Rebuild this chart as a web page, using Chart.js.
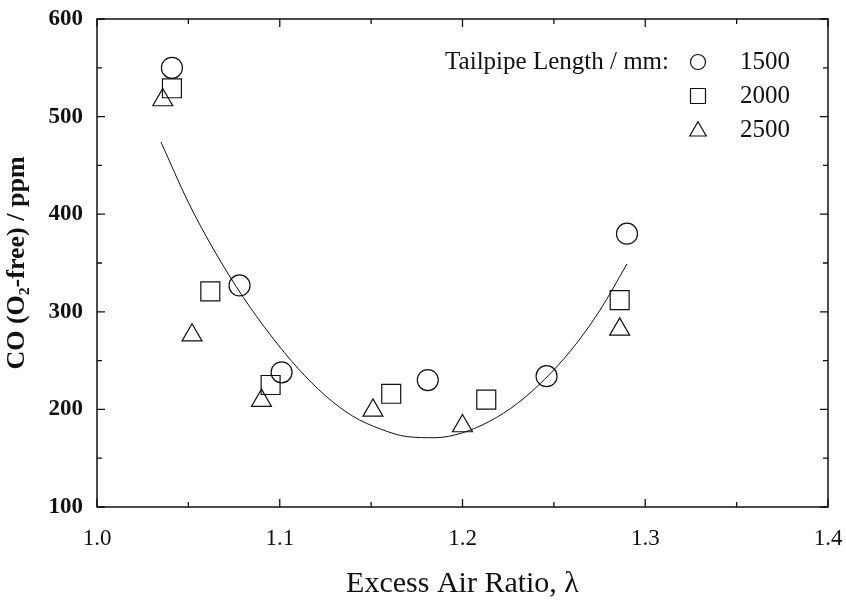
<!DOCTYPE html>
<html>
<head>
<meta charset="utf-8">
<script src="https://cdn.jsdelivr.net/npm/chart.js@4.4.1/dist/chart.umd.min.js"></script>
<style>
  html, body { margin: 0; padding: 0; background: #fff; }
</style>
</head>
<body>
<canvas id="coChart" width="846" height="607"></canvas>
<script>
// excess air ratio / CO readings per tailpipe length
var lambda1500 = [1.041, 1.078, 1.101, 1.181, 1.246, 1.290];
var co1500     = [550, 327, 238, 230, 234, 380];
var lambda2000 = [1.041, 1.062, 1.095, 1.161, 1.213, 1.286];
var co2000     = [529, 321, 225, 216, 210, 312];
var lambda2500 = [1.036, 1.052, 1.090, 1.151, 1.200, 1.286];
var co2500     = [517, 276, 209, 199, 183, 282];

// fitted curve
var fitLambda = [1.035, 1.05, 1.065, 1.08, 1.095, 1.11, 1.125, 1.14, 1.155, 1.17, 1.185, 1.2, 1.215, 1.23, 1.245, 1.26, 1.275, 1.29];
var fitCO     = [474, 412, 360, 315, 276, 242, 214, 193, 180, 172, 171, 176, 188, 206, 231, 262, 301, 349];

var seriesNames = ['1500', '2000', '2500'];
var xTicks = [1.0, 1.1, 1.2, 1.3, 1.4];
var yTicks = [100, 200, 300, 400, 500, 600];

var ink = '#111';
var serif = "'Liberation Serif', 'DejaVu Serif', serif";

function pts(xs, ys) {
  return xs.map(function (x, i) { return { x: x, y: ys[i] }; });
}

// inner ticks on all four sides + frame
var frameTicks = {
  id: 'frameTicks',
  afterDraw: function (chart) {
    var ctx = chart.ctx, a = chart.chartArea;
    var xs = chart.scales.x, ys = chart.scales.y;
    ctx.save();
    ctx.strokeStyle = ink;
    ctx.lineWidth = 1.5;
    ctx.strokeRect(a.left, a.top, a.right - a.left, a.bottom - a.top);
    ctx.lineWidth = 1.3;
    ctx.beginPath();
    for (var v = 1.0; v <= 1.4001; v += 0.05) {
      var px = xs.getPixelForValue(v);
      var major = Math.abs(v * 10 - Math.round(v * 10)) < 0.01;
      var len = major ? 8 : 5;
      ctx.moveTo(px, a.bottom); ctx.lineTo(px, a.bottom - len);
      ctx.moveTo(px, a.top); ctx.lineTo(px, a.top + len);
    }
    for (var w = 100; w <= 600; w += 50) {
      var py = ys.getPixelForValue(w);
      var len2 = (w % 100 === 0) ? 8 : 5;
      ctx.moveTo(a.left, py); ctx.lineTo(a.left + len2, py);
      ctx.moveTo(a.right, py); ctx.lineTo(a.right - len2, py);
    }
    ctx.stroke();
    ctx.restore();
  }
};

function marker(ctx, style, x, y, r) {
  ctx.beginPath();
  if (style === 'circle') {
    ctx.arc(x, y, r, 0, Math.PI * 2);
  } else if (style === 'rect') {
    ctx.rect(x - r, y - r, 2 * r, 2 * r);
  } else {
    ctx.moveTo(x, y - r * 1.1);
    ctx.lineTo(x + r * 1.1, y + r * 0.8);
    ctx.lineTo(x - r * 1.1, y + r * 0.8);
    ctx.closePath();
  }
  ctx.stroke();
}

// legend inside plot, top right
var legendBox = {
  id: 'legendBox',
  afterDraw: function (chart) {
    var ctx = chart.ctx;
    var styles = ['circle', 'rect', 'triangle'];
    ctx.save();
    ctx.fillStyle = ink;
    ctx.strokeStyle = ink;
    ctx.lineWidth = 1.2;
    ctx.font = '25px ' + serif;
    ctx.textBaseline = 'middle';
    ctx.textAlign = 'right';
    ctx.fillText('Tailpipe Length / mm:', 669, 62);
    for (var i = 0; i < seriesNames.length; i++) {
      var ry = 62 + i * 34;
      marker(ctx, styles[i], 698, ry, 7.5);
      ctx.textAlign = 'left';
      ctx.fillText(seriesNames[i], 740, ry);
    }
    ctx.restore();
  }
};

function scatterSet(label, xs, ys, style, r) {
  return {
    label: label,
    data: pts(xs, ys),
    pointStyle: style,
    pointRadius: r,
    pointHoverRadius: r,
    pointBorderWidth: 1.2,
    pointBorderColor: ink,
    pointBackgroundColor: 'rgba(0,0,0,0)',
    showLine: false
  };
}

new Chart(document.getElementById('coChart'), {
  type: 'scatter',
  data: {
    datasets: [
      {
        label: 'fit',
        data: pts(fitLambda, fitCO),
        showLine: true,
        borderColor: ink,
        borderWidth: 1,
        pointRadius: 0,
        cubicInterpolationMode: 'monotone',
        fill: false
      },
      scatterSet(seriesNames[0], lambda1500, co1500, 'circle', 10.5),
      scatterSet(seriesNames[1], lambda2000, co2000, 'rect', 13.4),
      scatterSet(seriesNames[2], lambda2500, co2500, 'triangle', 11.5)
    ]
  },
  options: {
    responsive: false,
    animation: false,
    layout: { padding: { left: 2, right: 18, top: 19, bottom: 2 } },
    plugins: {
      legend: { display: false },
      tooltip: { enabled: false }
    },
    scales: {
      x: {
        type: 'linear',
        min: 1.0,
        max: 1.4,
        afterBuildTicks: function (s) { s.ticks = xTicks.map(function (v) { return { value: v }; }); },
        afterFit: function (s) {
          s.height = 98;
          s.paddingLeft = 0;
          s.paddingRight = 0;
        },
        grid: { display: false, drawTicks: false },
        border: { display: false },
        ticks: {
          padding: 18,
          color: ink,
          font: { family: serif, size: 23 },
          maxRotation: 0,
          callback: function (v) { return v.toFixed(1); }
        },
        title: {
          display: true,
          text: 'Excess Air Ratio, \u03bb',
          color: ink,
          padding: { top: 0, bottom: 3 },
          font: { family: serif, size: 30 }
        }
      },
      y: {
        type: 'linear',
        min: 100,
        max: 600,
        afterBuildTicks: function (s) { s.ticks = yTicks.map(function (v) { return { value: v }; }); },
        afterFit: function (s) {
          s.width = 95;
          s.paddingTop = 0;
          s.paddingBottom = 0;
        },
        grid: { display: false, drawTicks: false },
        border: { display: false },
        ticks: {
          padding: 14,
          color: ink,
          font: { family: serif, size: 23, weight: 'bold' }
        },
        title: {
          display: true,
          text: 'CO (O\u2082-free) / ppm',
          color: ink,
          padding: { top: 0, bottom: 0 },
          font: { family: serif, size: 26, weight: 'bold' }
        }
      }
    }
  },
  plugins: [frameTicks, legendBox]
});
</script>
</body>
</html>
